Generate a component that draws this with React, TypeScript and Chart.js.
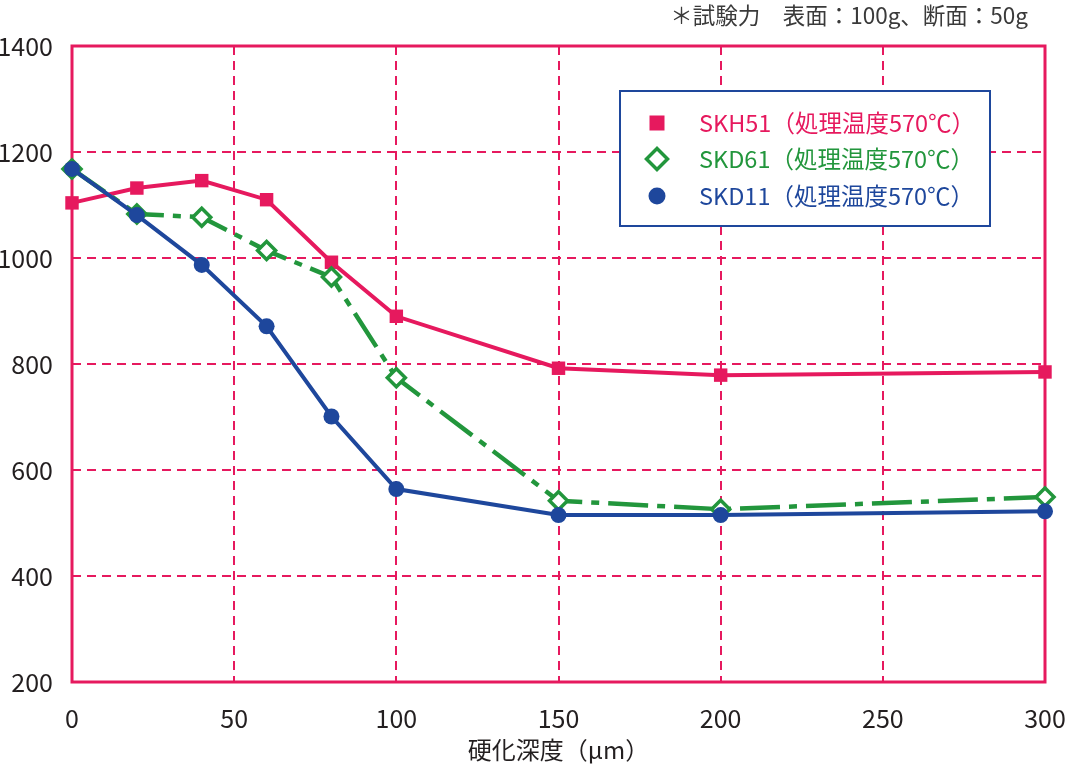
import React, { useEffect, useRef } from 'react';
import { Chart, registerables } from 'chart.js';

Chart.register(...registerables);

// ---- data ----
const depthsUm = [0, 20, 40, 60, 80, 100, 150, 200, 300];
const skh51 = [1104, 1132, 1146, 1110, 992, 890, 792, 779, 785];
const skd61 = [1168, 1083, 1077, 1014, 964, 774, 542, 526, 549];
const skd11 = [1168, 1081, 987, 871, 701, 564, 515, 515, 522];
const seriesLabels = ['SKH51（処理温度570℃）', 'SKD61（処理温度570℃）', 'SKD11（処理温度570℃）'];
const xTickValues = [0, 50, 100, 150, 200, 250, 300];
const yTickValues = [200, 400, 600, 800, 1000, 1200, 1400];
const xTitle = '硬化深度（μm）';
const noteText = '＊試験力　表面：100g、断面：50g';

// ---- styles ----
const CRIMSON = '#e6195e';
const GREEN = '#22963c';
const BLUE = '#1e479c';
const TEXT = '#231f20';
const FONT = "'Noto Sans CJK JP', 'Noto Sans', sans-serif";

function drawMarker(ctx: CanvasRenderingContext2D, kind: string, x: number, y: number, color: string) {
  ctx.save();
  if (kind === 'square') {
    ctx.fillStyle = color;
    ctx.fillRect(x - 7.5, y - 7.5, 15, 15);
  } else if (kind === 'diamond') {
    const r = 10.5;
    ctx.beginPath();
    ctx.moveTo(x - r, y);
    ctx.lineTo(x, y - r);
    ctx.lineTo(x + r, y);
    ctx.lineTo(x, y + r);
    ctx.closePath();
    ctx.fillStyle = '#ffffff';
    ctx.fill();
    ctx.lineWidth = 3.5;
    ctx.strokeStyle = color;
    ctx.stroke();
  } else {
    ctx.beginPath();
    ctx.arc(x, y, 8.5, 0, Math.PI * 2);
    ctx.fillStyle = color;
    ctx.fill();
  }
  ctx.restore();
}

const decorPlugin = {
  id: 'decor',
  beforeDatasetsDraw(chart: any) {
    const { ctx, chartArea: a } = chart;
    ctx.save();
    ctx.strokeStyle = CRIMSON;
    ctx.lineWidth = 3;
    ctx.strokeRect(a.left, a.top, a.right - a.left, a.bottom - a.top);

    // legend box
    const bx = 620, by = 91, bw = 370, bh = 135;
    ctx.fillStyle = '#ffffff';
    ctx.fillRect(bx, by, bw, bh);
    ctx.strokeStyle = BLUE;
    ctx.lineWidth = 2;
    ctx.strokeRect(bx, by, bw, bh);

    const kinds = ['square', 'diamond', 'circle'];
    const colors = [CRIMSON, GREEN, BLUE];
    const rows = [123, 159, 196];
    ctx.font = `23.5px ${FONT}`;
    ctx.textBaseline = 'middle';
    ctx.textAlign = 'left';
    for (let i = 0; i < 3; i++) {
      drawMarker(ctx, kinds[i], 657, rows[i], colors[i]);
      ctx.fillStyle = colors[i];
      ctx.fillText(seriesLabels[i], 699, rows[i]);
    }
    ctx.restore();
  },
  afterDraw(chart: any) {
    const { ctx } = chart;
    ctx.save();
    ctx.font = `22.5px ${FONT}`;
    ctx.fillStyle = '#3a3a3a';
    ctx.textAlign = 'right';
    ctx.textBaseline = 'middle';
    ctx.fillText(noteText, 1028, 15);
    ctx.restore();
  },
};

export default function App() {
  const canvasRef = useRef<HTMLCanvasElement | null>(null);

  useEffect(() => {
    const canvas = canvasRef.current;
    if (!canvas) return;
    const mk = (arr: number[]) => depthsUm.map((x, i) => ({ x, y: arr[i] }));
    const chart = new Chart(canvas, {
      type: 'line',
      data: {
        datasets: [
          {
            label: seriesLabels[0],
            data: mk(skh51),
            borderColor: CRIMSON,
            backgroundColor: CRIMSON,
            borderWidth: 4,
            pointStyle: 'rect',
            pointRadius: 9.5,
            pointBorderWidth: 0,
            pointBackgroundColor: CRIMSON,
            tension: 0,
            clip: false,
            order: 3,
          },
          {
            label: seriesLabels[1],
            data: mk(skd61),
            borderColor: GREEN,
            backgroundColor: '#ffffff',
            borderWidth: 4.5,
            borderDash: [40, 9, 8, 9],
            pointStyle: 'rectRot',
            pointRadius: 9,
            pointBorderWidth: 3.5,
            pointBorderColor: GREEN,
            pointBackgroundColor: '#ffffff',
            tension: 0,
            clip: false,
            order: 2,
          },
          {
            label: seriesLabels[2],
            data: mk(skd11),
            borderColor: BLUE,
            backgroundColor: BLUE,
            borderWidth: 4,
            pointStyle: 'circle',
            pointRadius: 8,
            pointBorderWidth: 0,
            pointBackgroundColor: BLUE,
            tension: 0,
            clip: false,
            order: 1,
          },
        ],
      },
      options: {
        animation: false,
        responsive: false,
        events: [],
        layout: { autoPadding: false, padding: { top: 46, right: 0, left: 0, bottom: 0 } },
        plugins: {
          legend: { display: false },
          tooltip: { enabled: false },
          title: { display: false },
        },
        scales: {
          x: {
            type: 'linear',
            min: 0,
            max: 300,
            afterBuildTicks: (scale: any) => {
              scale.ticks = xTickValues.map((v) => ({ value: v }));
            },
            afterFit: (scale: any) => {
              scale.height = 88;
              scale.paddingRight = 20;
              scale.paddingLeft = 0;
            },
            ticks: {
              color: TEXT,
              font: { family: FONT, size: 25 },
              padding: 21,
              maxRotation: 0,
              callback: (v: any) => String(v),
            },
            grid: {
              color: CRIMSON,
              lineWidth: 2,
              drawTicks: false,
            },
            border: { display: false, dash: [9, 6] },
            title: {
              display: true,
              text: xTitle,
              color: TEXT,
              font: { family: FONT, size: 24 },
              padding: { top: 0, bottom: 6 },
            },
          },
          y: {
            type: 'linear',
            min: 200,
            max: 1400,
            afterBuildTicks: (scale: any) => {
              scale.ticks = yTickValues.map((v) => ({ value: v }));
            },
            afterFit: (scale: any) => {
              scale.width = 72;
              scale.paddingTop = 0;
              scale.paddingBottom = 0;
            },
            ticks: {
              color: TEXT,
              font: { family: FONT, size: 25 },
              padding: 19,
              callback: (v: any) => String(v),
            },
            grid: {
              color: CRIMSON,
              lineWidth: 2,
              drawTicks: false,
            },
            border: { display: false, dash: [9, 6] },
          },
        },
      },
      plugins: [decorPlugin],
    } as any);
    return () => chart.destroy();
  }, []);

  return (
    <div style={{ position: 'absolute', left: 0, top: 0, width: 1065, height: 770, background: '#ffffff' }}>
      <canvas ref={canvasRef} width={1065} height={770} style={{ width: 1065, height: 770, display: 'block' }} />
    </div>
  );
}
